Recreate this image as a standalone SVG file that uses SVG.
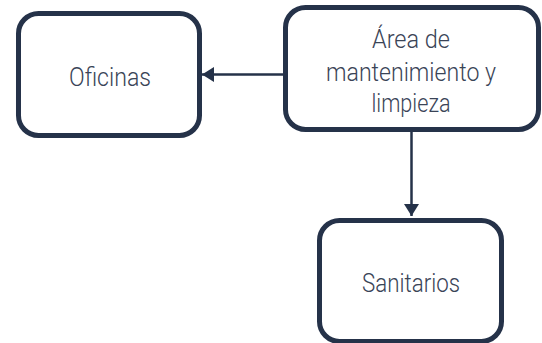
<svg xmlns="http://www.w3.org/2000/svg" width="542" height="343" viewBox="0 0 542 343">
<defs>
<style>
.box{fill:#ffffff;stroke:#253249;stroke-width:5}
.lbl{font-family:Roboto,"Liberation Sans",sans-serif;font-weight:300;font-size:26px;fill:#3a4457;text-anchor:middle}
.edge{stroke:#253249;stroke-width:2.5;fill:none}
</style>
<marker id="ah" viewBox="0 0 12 15" refX="12" refY="7.5" markerWidth="12" markerHeight="15" markerUnits="userSpaceOnUse" orient="auto">
<path d="M0,0 L12,7.5 L0,15 Z" fill="#253249"/>
</marker>
</defs>
<rect width="542" height="343" fill="#ffffff"/>
<g id="connectors">
<path class="edge" d="M283,74.5 L202,74.5" marker-end="url(#ah)"/>
<path class="edge" d="M411.5,132 L411.5,216" marker-end="url(#ah)"/>
</g>
<g id="oficinas">
<rect class="box" x="18.5" y="13.5" width="181" height="122" rx="20"/>
<text class="lbl" x="110" y="85.5" textLength="82" lengthAdjust="spacingAndGlyphs">Oficinas</text>
</g>
<g id="area">
<rect class="box" x="285.5" y="7.5" width="253" height="122" rx="20"/>
<text class="lbl" x="411" y="47.5" textLength="78" lengthAdjust="spacingAndGlyphs">Área de</text>
<text class="lbl" x="411" y="80.5" textLength="170" lengthAdjust="spacingAndGlyphs">mantenimiento y</text>
<text class="lbl" x="411" y="112" textLength="79" lengthAdjust="spacingAndGlyphs">limpieza</text>
</g>
<g id="sanitarios">
<rect class="box" x="319.5" y="220.5" width="182" height="121" rx="20"/>
<text class="lbl" x="411" y="291.5" textLength="98" lengthAdjust="spacingAndGlyphs">Sanitarios</text>
</g>
</svg>
